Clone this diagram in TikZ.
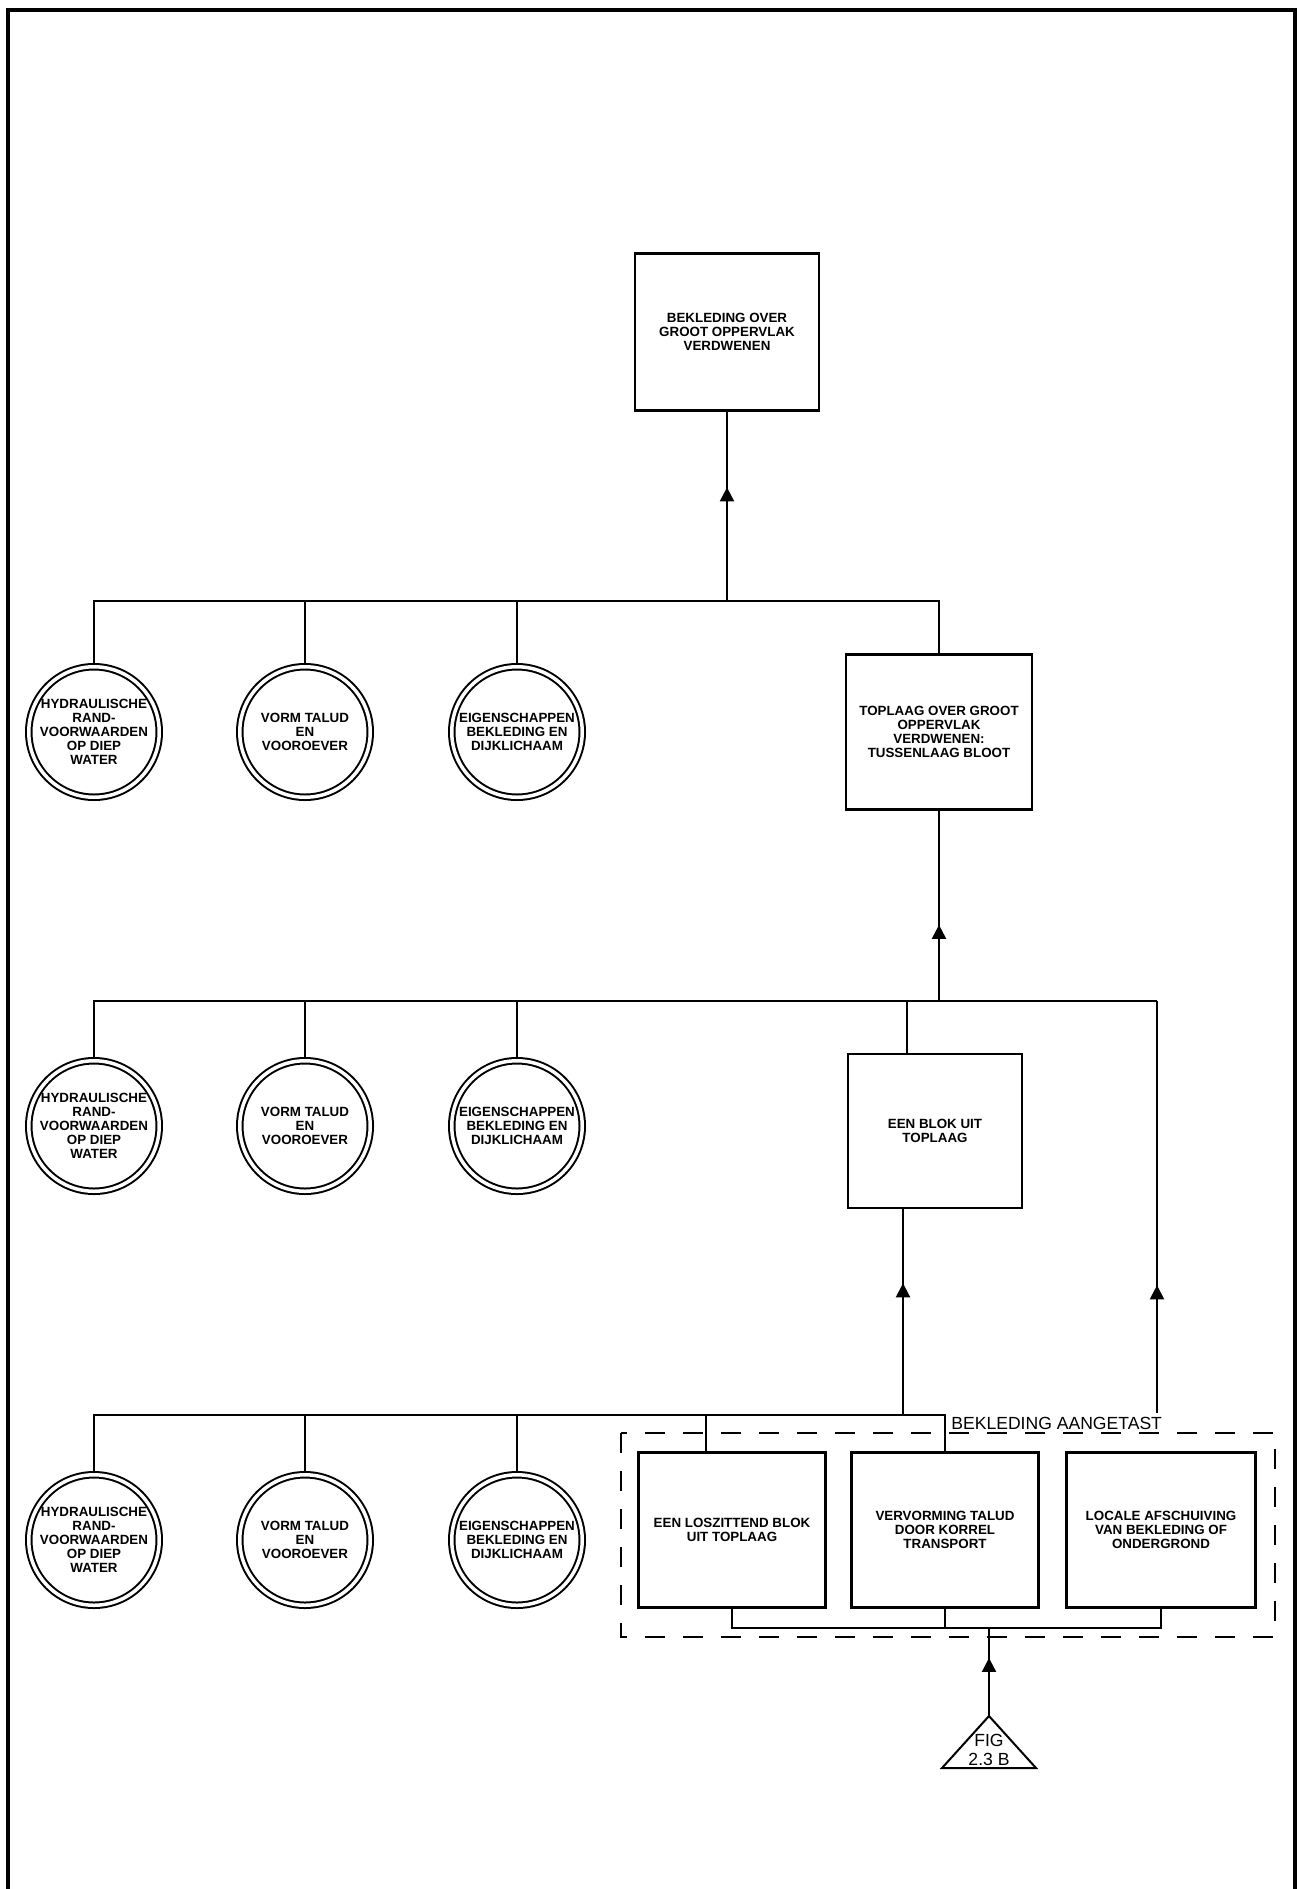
\documentclass[tikz,border=0pt]{standalone}
\usepackage{fontspec}
\setsansfont{Liberation Sans}
\usetikzlibrary{positioning,arrows.meta,decorations.markings}

\begin{document}
\begin{tikzpicture}[x=0.2mm,y=-0.2mm,
  font=\sffamily\bfseries\fontsize{7.6}{7.9}\selectfont,
  wire/.style={line width=0.4mm},
  blok/.style={draw,line width=0.45mm,align=center,inner sep=0pt},
  cond/.style={circle,draw,line width=0.4mm,double,double distance=0.7mm,
    minimum size=26.1mm,inner sep=0pt,outer sep=0.3mm,align=center},
  group/.style={line width=0.35mm,dash pattern=on 4mm off 3.6mm},
  midtip/.style={postaction={decorate},decoration={markings,
    mark=at position #1 with {\arrow{Triangle[width=2.8mm,length=2.8mm]}}}}]
\useasboundingbox (0,0) rectangle (1300,1889);
% sheet frame, open at the bottom
\draw[line width=0.9mm] (8,1889) -- (8,10) -- (1295,10) -- (1295,1889);
% events
\node[blok,minimum width=36.8mm,minimum height=31.4mm] (top) at (727,332)
  {BEKLEDING OVER\\GROOT OPPERVLAK\\VERDWENEN};
\node[blok,minimum width=37.2mm,minimum height=31mm] (tpl) at (939,732)
  {TOPLAAG OVER GROOT\\OPPERVLAK\\VERDWENEN:\\TUSSENLAAG BLOOT};
\node[blok,minimum width=34.8mm,minimum height=30.8mm] (blk) at (935,1131)
  {EEN BLOK UIT\\TOPLAAG};
\node[blok,minimum width=37.4mm,minimum height=31mm] (los) at (732,1530)
  {EEN LOSZITTEND BLOK\\UIT TOPLAAG};
\node[blok,minimum width=37.4mm,minimum height=31mm] (vrv) at (945,1530)
  {VERVORMING TALUD\\DOOR KORREL\\TRANSPORT};
\node[blok,minimum width=37.8mm,minimum height=31mm] (afs) at (1161,1530)
  {LOCALE AFSCHUIVING\\VAN BEKLEDING OF\\ONDERGROND};
% boundary conditions, one row per level
\foreach \r/\y in {1/732,2/1126,3/1540} {
  \node[cond] (hyd\r) at (94,\y) {HYDRAULISCHE\\RAND-\\VOORWAARDEN\\OP DIEP\\WATER};
  \node[cond] (vrm\r) at (305,\y) {VORM TALUD\\EN\\VOOROEVER};
  \node[cond] (eig\r) at (517,\y) {EIGENSCHAPPEN\\BEKLEDING EN\\DIJKLICHAAM};
}
% level 1
\coordinate (b1) at (727,601);
\draw[wire] (hyd1.north) |- (tpl.north |- b1) -- (tpl.north);
\draw[wire] (vrm1.north) -- (vrm1.north |- b1);
\draw[wire] (eig1.north) -- (eig1.north |- b1);
\draw[wire,midtip=0.6] (b1) -- (top.south);
% level 2
\coordinate (b2) at (939,1001);
\coordinate (r2) at (1157,1001);
\coordinate (r3) at (1157,1413);
\coordinate (k2) at (907,1001);
\draw[wire] (hyd2.north) |- (r2);
\draw[wire] (vrm2.north) -- (vrm2.north |- b2);
\draw[wire] (eig2.north) -- (eig2.north |- b2);
\draw[wire] (k2) -- (k2 |- blk.north);
\draw[wire,midtip=0.4] (b2) -- (tpl.south);
\draw[wire,midtip=0.31] (r3) -- (r2);
% level 3
\coordinate (b3) at (903,1415);
\coordinate (k3) at (706,1415);
\draw[wire] (hyd3.north) |- (vrv.north |- b3) -- (vrv.north);
\draw[wire] (vrm3.north) -- (vrm3.north |- b3);
\draw[wire] (eig3.north) -- (eig3.north |- b3);
\draw[wire] (k3) -- (k3 |- los.north);
\draw[wire,midtip=0.64] (b3) -- (b3 |- blk.south);
% group of damage mechanisms
\draw[group] (621,1433) rectangle (1275,1637);
\node[anchor=base west,inner sep=0pt,font=\sffamily\fontsize{10}{12}\selectfont]
  (lbl) at (951,1429) {BEKLEDING AANGETAST};
\coordinate (jn) at (989,1628);
\draw[wire] (los.south) |- (afs.south |- jn) -- (afs.south);
\draw[wire] (vrv.south) -- (vrv.south |- jn);
% reference to other figure
\coordinate (fig) at (989,1716);
\draw[wire] (fig) -- (942,1768) -- (1036,1768) -- cycle;
\node[align=center,inner sep=0pt,font=\sffamily\fontsize{10}{10.5}\selectfont]
  (figtxt) at (989,1750) {FIG\\2.3 B};
\draw[wire,midtip=0.66] (fig) -- (jn);
\end{tikzpicture}
\end{document}
